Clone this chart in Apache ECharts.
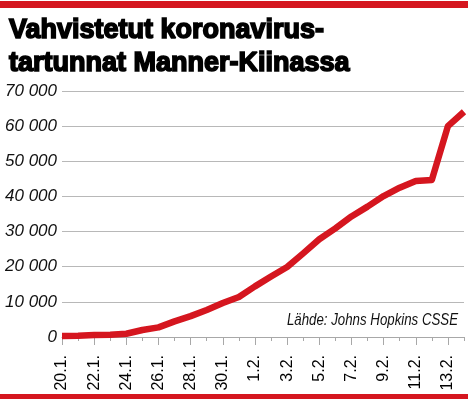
<!DOCTYPE html>
<html>
<head>
<meta charset="utf-8">
<script src="https://cdn.jsdelivr.net/npm/echarts@6/dist/echarts.min.js"></script>
<style>
  html, body { margin: 0; padding: 0; background: #fff; }
  #main { width: 468px; height: 399px; }
</style>
</head>
<body>
<div id="main"></div>
<script>
// päivät 20.1. - 14.2.
var days = ['20.1.', '21.1.', '22.1.', '23.1.', '24.1.', '25.1.', '26.1.', '27.1.', '28.1.',
  '29.1.', '30.1.', '31.1.', '1.2.', '2.2.', '3.2.', '4.2.', '5.2.', '6.2.', '7.2.', '8.2.',
  '9.2.', '10.2.', '11.2.', '12.2.', '13.2.', '14.2.'];
// vahvistetut tartunnat (arvioitu kuvasta)
var cases = [300, 350, 550, 640, 920, 2000, 2750, 4450, 5950, 7700, 9650, 11400, 14400, 17200,
  19900, 23800, 27800, 30900, 34300, 37100, 40100, 42500, 44400, 44700, 60000, 64100];
var yTicks = [0, 10000, 20000, 30000, 40000, 50000, 60000, 70000];

var RED = '#d5161f';
var GRAY = '#a8a8a8';
var FONT = '"Liberation Sans", Arial, sans-serif';

var chart = echarts.init(document.getElementById('main'), null, { renderer: 'canvas' });

function fmt(v) {
  return String(v).replace(/\B(?=(\d{3})+(?!\d))/g, ' ');
}

var option = {
  backgroundColor: '#fff',
  animation: false,
  title: {
    text: 'Vahvistetut koronavirus-\ntartunnat Manner-Kiinassa',
    left: 4,
    top: 9,
    textStyle: {
      color: '#000',
      fontFamily: FONT,
      fontWeight: 'bold',
      fontSize: 27,
      lineHeight: 33,
      textBorderColor: '#000',
      textBorderWidth: 1.6
    }
  },
  grid: { left: 62, right: 4, top: 91, bottom: 62 },
  xAxis: [{
    type: 'category',
    data: days,
    boundaryGap: false,
    axisLine: { lineStyle: { color: GRAY, width: 1 } },
    axisTick: { interval: 1, length: 8, lineStyle: { color: GRAY } },
    axisLabel: {
      interval: 1,
      rotate: 90,
      margin: 18,
      color: '#000',
      fontFamily: FONT,
      fontSize: 16
    }
  }, {
    type: 'category',
    data: days,
    boundaryGap: false,
    position: 'bottom',
    axisLine: { show: false },
    axisTick: { interval: 0, length: 4, lineStyle: { color: GRAY } },
    axisLabel: { show: false }
  }],
  yAxis: {
    type: 'value',
    min: yTicks[0],
    max: yTicks[yTicks.length - 1],
    interval: 10000,
    axisLine: { show: false },
    axisTick: { show: false },
    splitLine: { lineStyle: { color: '#b8b8b8', width: 1.2 } },
    axisLabel: {
      margin: 5,
      color: '#111',
      fontFamily: FONT,
      fontStyle: 'italic',
      fontSize: 17,
      formatter: fmt
    }
  },
  graphic: [
    { type: 'rect', left: 0, top: 1, shape: { width: 468, height: 7 }, style: { fill: RED } },
    { type: 'rect', left: 0, top: 394, shape: { width: 468, height: 5 }, style: { fill: RED } },
    {
      type: 'text', x: 458, y: 312, scaleX: 0.78,
      style: {
        text: 'Lähde: Johns Hopkins CSSE',
        fill: '#111',
        align: 'right',
        font: 'italic 17px ' + FONT
      }
    }
  ],
  series: [{
    type: 'line',
    data: cases,
    xAxisIndex: 0,
    showSymbol: false,
    lineStyle: { color: RED, width: 6.5, join: 'round', cap: 'butt' }
  }]
};

chart.setOption(option);
</script>
</body>
</html>
